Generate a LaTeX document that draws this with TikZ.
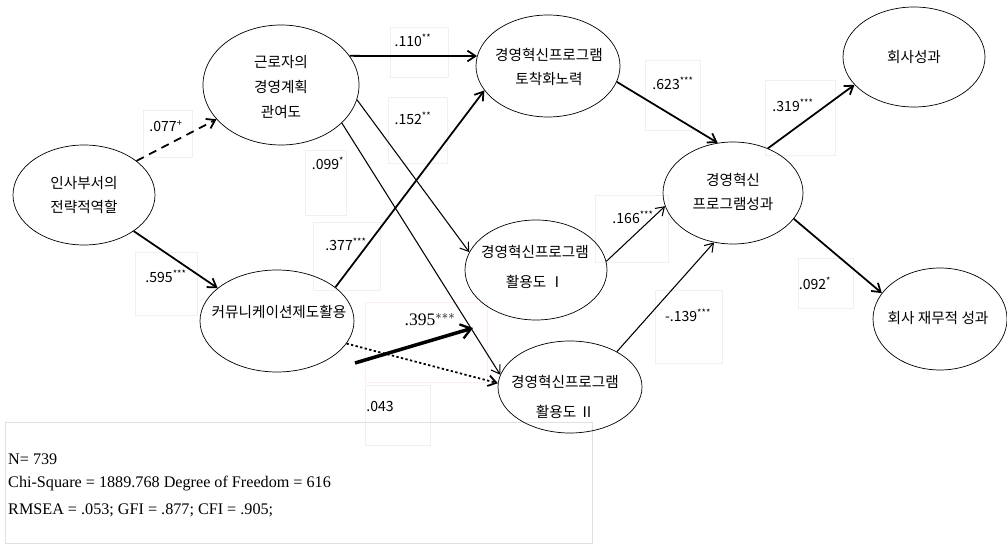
\documentclass[tikz,border=0pt]{standalone}
\usepackage{fontspec}
\setmainfont{Liberation Serif}
\newfontfamily\kofont{Noto Sans CJK KR}
\usetikzlibrary{shapes.geometric, arrows.meta}

\begin{document}
\begin{tikzpicture}[x=0.03cm, y=-0.03cm,
    var/.style={draw, ellipse, inner sep=0pt, line width=0.6pt},
    vtxt/.style={align=center, inner sep=0pt, font=\kofont\fontsize{12.5}{21}\selectfont},
    vtxtw/.style={vtxt, font=\kofont\fontsize{12.5}{26}\selectfont},
    coef/.style={inner sep=0pt, font=\kofont\fontsize{12}{14}\selectfont},
    ghost/.style={draw=black!6, line width=0.5pt},
    plain/.style={-{Straight Barb[length=2.4mm, width=3.2mm]}, line width=0.9pt},
    heavy/.style={-{Straight Barb[length=2.4mm, width=3.2mm]}, line width=1.5pt},
    bold/.style={-{Straight Barb[length=3mm, width=4.4mm, line width=2pt]}, line width=3pt}
]
    \useasboundingbox (0,0) rectangle (1007,544);

    % faint boxes behind the coefficients
    \draw[ghost] (143,110) rectangle (192,157);
    \draw[ghost] (390,27) rectangle (448,77);
    \draw[ghost] (388,97) rectangle (447,163);
    \draw[ghost] (305,150) rectangle (346,215);
    \draw[ghost] (135,252) rectangle (197,315);
    \draw[ghost] (313,222) rectangle (380,290);
    \draw[ghost] (645,60) rectangle (700,130);
    \draw[ghost] (765,80) rectangle (835,155);
    \draw[ghost] (595,195) rectangle (668,262);
    \draw[ghost] (655,290) rectangle (722,363);
    \draw[ghost] (798,258) rectangle (853,308);
    \draw[ghost] (365,385) rectangle (430,445);
    \draw[draw=red!7, line width=0.5pt] (365,302) rectangle (487,382);
    \draw[draw=black!12, line width=0.6pt] (5,422) rectangle (592,543);

    % variables
    \node[var, minimum width=4.26cm, minimum height=3cm] (hr) at (84,195) {};
    \node[var, minimum width=4.68cm, minimum height=3.6cm] (part) at (281,85) {};
    \node[var, minimum width=4.32cm, minimum height=3.06cm] (adopt) at (548,66) {};
    \node[var, minimum width=4.26cm, minimum height=3cm] (firm) at (914,57) {};
    \node[var, minimum width=4.2cm, minimum height=3.06cm] (perf) at (733,193) {};
    \node[var, minimum width=4.62cm, minimum height=3.06cm] (comm) at (277,321) {};
    \node[var, minimum width=4.26cm, minimum height=3cm] (use1) at (536,270) {};
    \node[var, minimum width=4.02cm, minimum height=3.06cm] (fin) at (940,319) {};
    \node[var, minimum width=4.32cm, minimum height=2.76cm] (use2) at (570,387) {};

    \node[vtxt] (hrt) at (84,195) {인사부서의\\전략적역할};
    \node[vtxt] (partt) at (281,87) {근로자의\\경영계획\\관여도};
    \node[vtxt] (adoptt) at (549,67) {경영혁신프로그램\\토착화노력};
    \node[vtxt] (firmt) at (914,57) {회사성과};
    \node[vtxt] (perft) at (733,192) {경영혁신\\프로그램성과};
    \node[vtxt] (commt) at (279,312) {커뮤니케이션제도활용};
    \node[vtxtw] (use1t) at (535,267) {경영혁신프로그램\\활용도 Ⅰ};
    \node[vtxt] (fint) at (938,318) {회사 재무적 성과};
    \node[vtxtw] (use2t) at (565,397) {경영혁신프로그램\\활용도 Ⅱ};

    % paths
    \path[heavy]
      (hr.33) edge [dash pattern=on 7pt off 5pt] (part.208)
      (hr.-36) edge (comm.151)
      (part.23) edge (adopt.172)
      (comm.30) edge (adopt.201)
      (adopt.-13) edge (perf.107)
      (perf.52) edge (firm.205)
      (perf.-23) edge (fin.156)
      (comm.-18) edge [dash pattern=on 2pt off 2pt] (use2.177);
    \path[plain]
      (part.-11) edge (use1.165)
      (part.-32) edge (use2.170)
      (use1.7) edge (perf.191)
      (use2.37) edge (perf.249);

    \coordinate (b395s) at (355,363);
    \coordinate (b395e) at (473,328);
    \draw[bold] (b395s) -- (b395e);

    % coefficients
    \node[coef] (c077) at (166,126) {.077\textsuperscript{+}};
    \node[coef] (c110) at (413,40) {.110\textsuperscript{**}};
    \node[coef] (c152) at (413,118) {.152\textsuperscript{**}};
    \node[coef] (c099) at (328,163) {.099\textsuperscript{*}};
    \node[coef] (c595) at (166,276) {.595\textsuperscript{***}};
    \node[coef] (c377) at (346,244) {.377\textsuperscript{***}};
    \node[coef] (c623) at (673,83) {.623\textsuperscript{***}};
    \node[coef] (c319) at (793,105) {.319\textsuperscript{***}};
    \node[coef] (c166) at (633,217) {.166\textsuperscript{***}};
    \node[coef] (c139) at (688,315) {-.139\textsuperscript{***}};
    \node[coef] (c092) at (815,283) {.092\textsuperscript{*}};
    \node[coef] (c043) at (380,406) {.043};
    \node[inner sep=0pt, font=\fontsize{15}{17}\selectfont] (c395) at (430,320) {.395$^{***}$};

    % fit statistics
    \node[anchor=west, inner sep=0pt, font=\fontsize{13.8}{16}\selectfont] (nline) at (8,459) {N= 739};
    \node[anchor=west, inner sep=0pt, font=\fontsize{13.8}{16}\selectfont] (chiline) at (8,484) {Chi-Square = 1889.768 Degree of Freedom = 616};
    \node[anchor=west, inner sep=0pt, font=\fontsize{13.8}{16}\selectfont] (fitline) at (8,510) {RMSEA = .053; GFI = .877; CFI = .905;};
\end{tikzpicture}
\end{document}
